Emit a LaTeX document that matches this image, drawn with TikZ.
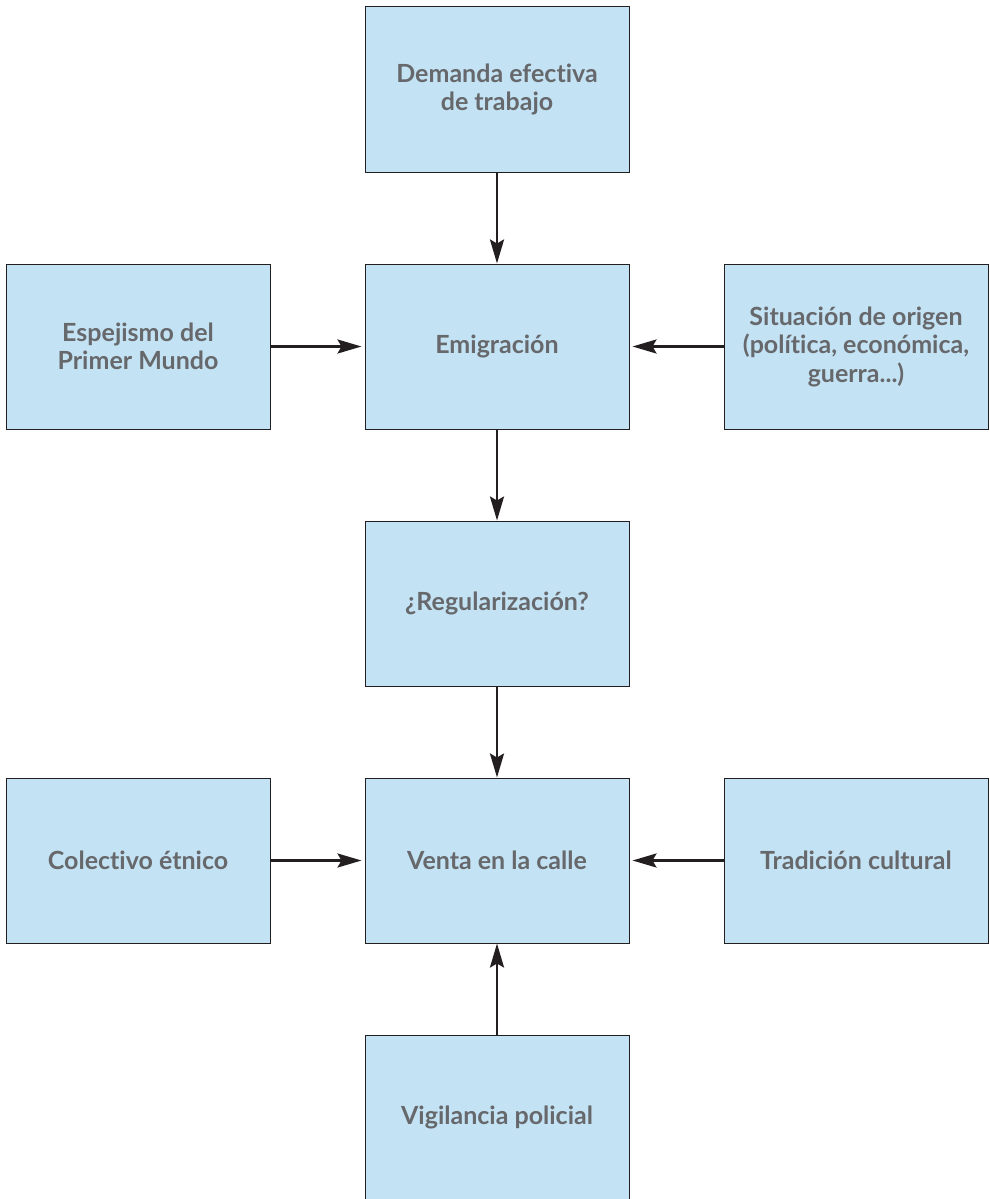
\documentclass[tikz,border=0pt]{standalone}
\usepackage{fontspec}
\setmainfont{Lato}[Ligatures=NoCommon]
\usetikzlibrary{arrows.meta}
\definecolor{boxfill}{HTML}{C3E3F5}
\definecolor{txtgray}{HTML}{67686B}
\definecolor{arrowc}{HTML}{231F20}
\begin{document}
\begin{tikzpicture}[x=1pt,y=-1pt,
  box/.style={draw=arrowc,line width=1pt,fill=boxfill,minimum width=264pt,minimum height=165pt,
    inner sep=0pt,align=center,text=txtgray,font=\fontsize{25}{28.5}\selectfont\bfseries},
  conn/.style={draw=arrowc,line width=2.5pt,-{Stealth[length=24pt,width=14pt,inset=4pt]}}]
\clip (0,0) rectangle (989,1199);
\fill[white] (0,0) rectangle (989,1199);
\node[box] (dem) at (497,89.5) {Demanda efectiva\\de trabajo};
\node[box] (emi) at (497,346.5) {Emigración};
\node[box] (esp) at (138,346.5) {Espejismo del\\Primer Mundo};
\node[box] (sit) at (856,346.5) {Situación de origen\\(política, económica,\\guerra...)};
\node[box] (reg) at (497,603.5) {¿Regularización?};
\node[box] (ven) at (497,860.5) {Venta en la calle};
\node[box] (col) at (138,860.5) {Colectivo étnico};
\node[box] (tra) at (856,860.5) {Tradición cultural};
\node[box] (vig) at (497,1117.5) {Vigilancia policial};
\draw[conn] (dem.south) -- (emi.north);
\draw[conn] (esp.east) -- ([xshift=-3pt]emi.west);
\draw[conn] (sit.west) -- ([xshift=3pt]emi.east);
\draw[conn] (emi.south) -- (reg.north);
\draw[conn] (reg.south) -- (ven.north);
\draw[conn] (col.east) -- ([xshift=-3pt]ven.west);
\draw[conn] (tra.west) -- ([xshift=3pt]ven.east);
\draw[conn] (vig.north) -- (ven.south);
\end{tikzpicture}
\end{document}
